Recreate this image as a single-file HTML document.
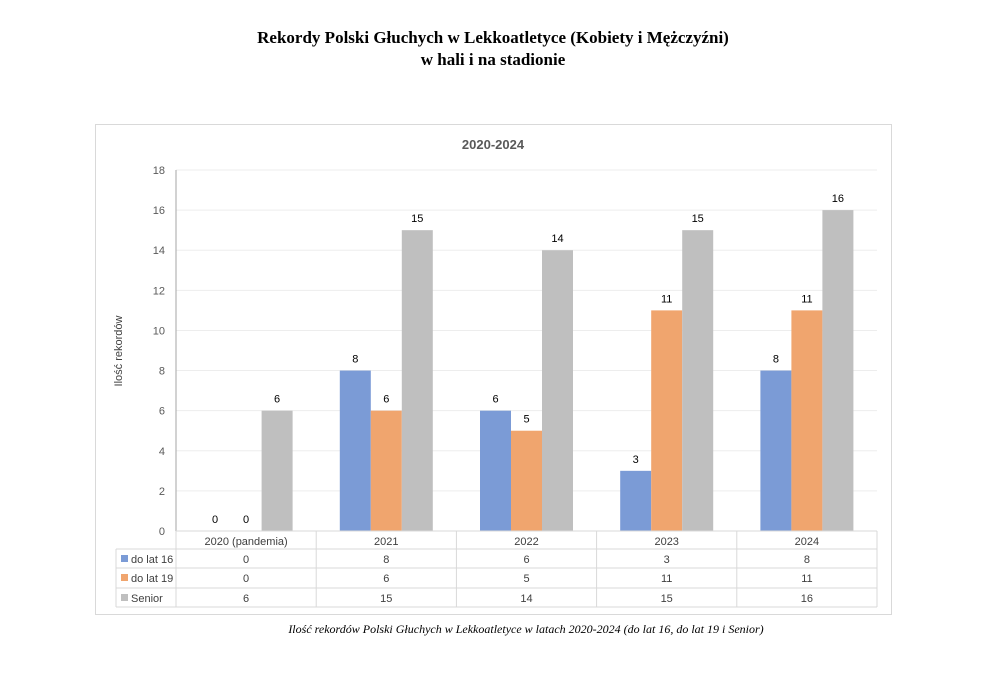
<!DOCTYPE html>
<html><head><meta charset="utf-8"><style>
body{margin:0;background:#fff;width:992px;height:671px;overflow:hidden;font-family:"Liberation Sans",sans-serif}
svg text{font-family:"Liberation Sans",sans-serif}
</style></head><body>
<svg width="992" height="671" xmlns="http://www.w3.org/2000/svg">
<text x="493" y="43" text-anchor="middle" font-family="Liberation Serif" font-weight="bold" font-size="17" style="font-family:'Liberation Serif',serif">Rekordy Polski Głuchych w Lekkoatletyce (Kobiety i Mężczyźni)</text>
<text x="493" y="65" text-anchor="middle" font-weight="bold" font-size="17" style="font-family:'Liberation Serif',serif">w hali i na stadionie</text>
<rect x="95.5" y="124.5" width="796" height="490" fill="#fff" stroke="#d9d9d9"/>
<text x="493" y="149" text-anchor="middle" font-weight="bold" font-size="13" fill="#595959">2020-2024</text>
<text transform="translate(122,351) rotate(-90)" text-anchor="middle" font-size="11" fill="#404040">Ilość  rekordów</text>
<g id="plot"></g>
<text x="526" y="633" text-anchor="middle" font-style="italic" font-size="12" style="font-family:'Liberation Serif',serif">Ilość rekordów Polski Głuchych w Lekkoatletyce w latach 2020-2024 (do lat 16, do lat 19 i Senior)</text>
</svg>
<script>
const categories=["2020 (pandemia)","2021","2022","2023","2024"];
const seriesNames=["do lat 16","do lat 19","Senior"];
const seriesColors=["#7b9bd6","#f0a56e","#bfbfbf"];
const u16=[0,8,6,3,8];
const u19=[0,6,5,11,11];
const senior=[6,15,14,15,16];
const yTicks=[0,2,4,6,8,10,12,14,16,18];
const series=[u16,u19,senior];
const NS="http://www.w3.org/2000/svg";
const g=document.getElementById('plot');
const X0=176,X1=877,Y0=531,Y1=170,YMAX=18;
const cw=(X1-X0)/categories.length;
const y=v=>Y0-(v/YMAX)*(Y0-Y1);
const xc=i=>X0+cw*(i+0.5);
function el(t,a,txt){const e=document.createElementNS(NS,t);for(const k in a)e.setAttribute(k,a[k]);if(txt!==undefined)e.textContent=txt;g.appendChild(e);return e;}
yTicks.forEach(t=>{
 if(t>0){const l=el('line',{x1:X0,x2:X1,y1:y(t),y2:y(t),stroke:'#ededed'});
 
 }
 const tx=el('text',{x:X0-11,y:y(t)+4,'text-anchor':'end','font-size':11,fill:'#595959'},t);
 
 
});
const ax=el('line',{x1:X0,x2:X0,y1:Y1,y2:Y0,stroke:'#a6a6a6'});


const bw=31;
series.forEach((s,si)=>{
 s.forEach((v,i)=>{
  const bx=xc(i)-1.5*bw+si*bw;
  const r=el('rect',{x:bx,y:y(v),width:bw,height:Y0-y(v),fill:seriesColors[si]});
  
  
  const lb=el('text',{x:bx+bw/2,y:y(v)-8,'text-anchor':'middle','font-size':11,fill:'#000'},v);
  
  
 });
});
// table
const TL=116,rows=[531,549,568,588,607];
[[X0,X1,rows[0]],[TL,X1,rows[1]],[TL,X1,rows[2]],[TL,X1,rows[3]],[TL,X1,rows[4]]].forEach(r=>{
 const l=el('line',{x1:r[0],x2:r[1],y1:r[2],y2:r[2],stroke:'#d9d9d9'});
 
 
});
const lv=el('line',{x1:TL,x2:TL,y1:rows[1],y2:rows[4],stroke:'#d9d9d9'});


for(let i=0;i<=categories.length;i++){
 const l=el('line',{x1:X0+cw*i,x2:X0+cw*i,y1:rows[0],y2:rows[4],stroke:'#d9d9d9'});
 
 
}
categories.forEach((c,i)=>{
 const t=el('text',{x:xc(i),y:rows[0]+14,'text-anchor':'middle','font-size':11,fill:'#404040'},c);
 
 
});
series.forEach((s,si)=>{
 const ry=rows[si+1];
 const sw=el('rect',{x:121,y:ry+6,width:7,height:7,fill:seriesColors[si]});
 
 
 const nm=el('text',{x:131,y:ry+14,'font-size':11,fill:'#404040'},seriesNames[si]);
 
 
 s.forEach((v,i)=>{
  const t=el('text',{x:xc(i),y:ry+14,'text-anchor':'middle','font-size':11,fill:'#404040'},v);
  
  
 });
});
</script>
</body></html>
